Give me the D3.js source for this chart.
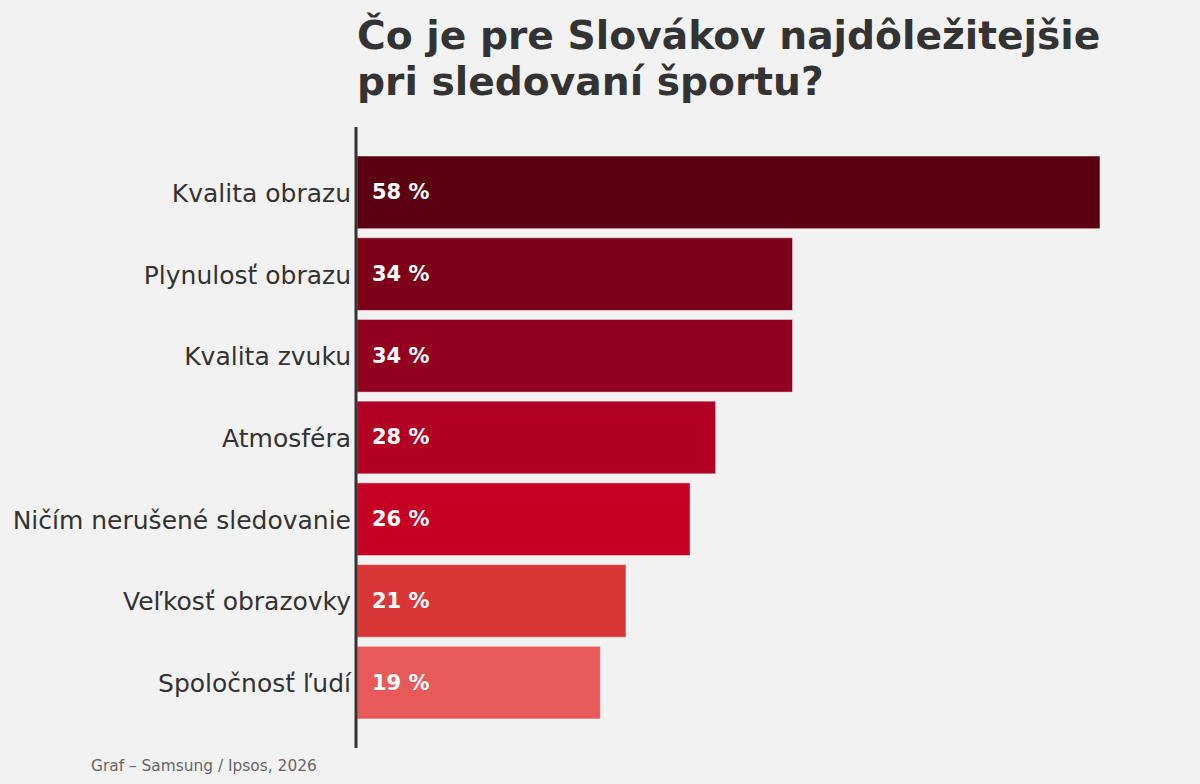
<!DOCTYPE html>
<html lang="sk">
<head>
  <meta charset="UTF-8">
  <title>Čo je pre Slovákov najdôležitejšie pri sledovaní športu?</title>
  <script src="https://d3js.org/d3.v7.min.js"></script>
  <style>
    html, body { margin: 0; padding: 0; background: #f2f2f2; }
    svg { display: block; font-family: "DejaVu Sans", sans-serif; }
  </style>
</head>
<body>
  <div id="viz"></div>
  <script>
    const categories = [
      "Kvalita obrazu",
      "Plynulosť obrazu",
      "Kvalita zvuku",
      "Atmosféra",
      "Ničím nerušené sledovanie",
      "Veľkosť obrazovky",
      "Spoločnosť ľudí"
    ];
    const values = [58, 34, 34, 28, 26, 21, 19];
    const colors = ["#5b0011", "#7b0018", "#91001f", "#b00024", "#c50024", "#d93737", "#e85a5a"];
    const titleLines = ["Čo je pre Slovákov najdôležitejšie", "pri sledovaní športu?"];
    const source = "Graf – Samsung / Ipsos, 2026";

    const width = 1200, height = 784;
    const svg = d3.select("#viz").append("svg")
      .attr("width", width)
      .attr("height", height);

    svg.append("rect")
      .attr("width", width).attr("height", height)
      .attr("fill", "#f2f2f2");

    const x = d3.scaleLinear()
      .domain([0, 58])
      .range([357, 1100]);

    const y = d3.scaleBand()
      .domain(categories)
      .range([127, 748])
      .paddingInner(0.11)
      .paddingOuter(0.355);

    // Bars
    svg.selectAll("rect.bar")
      .data(values)
      .enter()
      .append("rect")
      .attr("class", "bar")
      .attr("x", x(0))
      .attr("y", (d, i) => y(categories[i]))
      .attr("width", d => x(d) - x(0))
      .attr("height", y.bandwidth())
      .attr("fill", (d, i) => colors[i])
      .attr("stroke", "rgba(255,255,255,0.5)")
      .attr("stroke-width", 1);

    // Value labels
    svg.selectAll("text.value")
      .data(values)
      .enter()
      .append("text")
      .attr("class", "value")
      .attr("x", x(0) + 15)
      .attr("y", (d, i) => y(categories[i]) + y.bandwidth() / 2)
      .attr("dy", "0.33em")
      .attr("fill", "#fff")
      .attr("font-size", "21px")
      .attr("font-weight", "bold")
      .text(d => d + " %");

    // Category axis
    const axis = svg.append("g")
      .attr("transform", `translate(${x(0) - 1},0)`)
      .call(d3.axisLeft(y).tickSize(0).tickPadding(5));
    axis.select(".domain").remove();
    axis.attr("font-family", null).attr("font-size", null);
    axis.selectAll("text")
      .attr("font-size", "25px")
      .attr("dy", "0.38em")
      .attr("fill", "#333");

    svg.append("line")
      .attr("x1", x(0) - 1).attr("x2", x(0) - 1)
      .attr("y1", 127).attr("y2", 748)
      .attr("stroke", "#333")
      .attr("stroke-width", 3);

    // Title
    svg.append("text")
      .attr("x", 357)
      .attr("y", 49)
      .attr("fill", "#333")
      .attr("font-size", "39.2px")
      .attr("font-weight", "bold")
      .selectAll("tspan")
      .data(titleLines)
      .enter()
      .append("tspan")
      .attr("x", 357)
      .attr("dy", (d, i) => i === 0 ? 0 : 46)
      .text(d => d);

    // Source
    svg.append("text")
      .attr("x", 91)
      .attr("y", 771)
      .attr("fill", "#666")
      .attr("font-size", "15.4px")
      .text(source);
  </script>
</body>
</html>
